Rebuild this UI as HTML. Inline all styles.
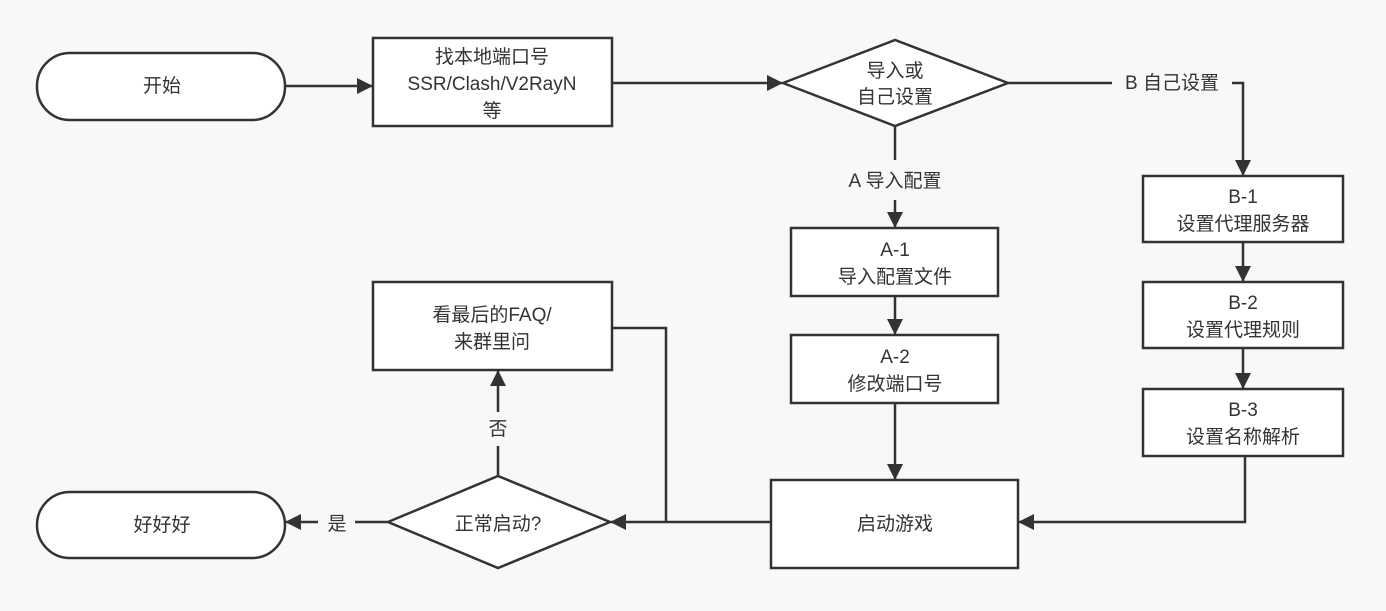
<!DOCTYPE html>
<html><head><meta charset="utf-8"><style>
html,body{margin:0;padding:0;background:#f8f8f8;}
svg text{font-family:"Liberation Sans","Noto Sans CJK SC",sans-serif;font-size:19px;fill:#333;text-anchor:middle;}
</style></head><body>
<svg width="1386" height="606" viewBox="0 0 1386 606" xmlns="http://www.w3.org/2000/svg">
<defs><marker id="a" markerWidth="16" markerHeight="16" refX="15" refY="8" orient="auto" markerUnits="userSpaceOnUse"><path d="M0,0 L16,8 L0,16 Z" fill="#333"/></marker></defs>
<g fill="#fff" stroke="#333" stroke-width="2.5">
<rect x="37" y="53" width="248" height="67" rx="33"/>
<rect x="373" y="38" width="239" height="88"/>
<polygon points="783,83 895,40 1008,83 895,126"/>
<rect x="791" y="228" width="207" height="68"/>
<rect x="791" y="335" width="207" height="68"/>
<rect x="771" y="480" width="247" height="88"/>
<rect x="1143" y="176" width="200" height="66"/>
<rect x="1143" y="282" width="200" height="66"/>
<rect x="1143" y="389" width="200" height="67"/>
<rect x="373" y="282" width="239" height="88"/>
<polygon points="388,522 498,476 610,522 498,568"/>
<rect x="37" y="492" width="248" height="66" rx="33"/>
</g>
<g fill="none" stroke="#333" stroke-width="2.5">
<line x1="285" y1="86" x2="372" y2="86" marker-end="url(#a)"/>
<line x1="612" y1="83" x2="782" y2="83" marker-end="url(#a)"/>
<polyline points="1008,83 1112,83"/>
<polyline points="1232,83 1243,83 1243,175" marker-end="url(#a)"/>
<line x1="895" y1="126" x2="895" y2="160"/>
<line x1="895" y1="200" x2="895" y2="227" marker-end="url(#a)"/>
<line x1="895" y1="296" x2="895" y2="334" marker-end="url(#a)"/>
<line x1="895" y1="403" x2="895" y2="479" marker-end="url(#a)"/>
<line x1="1243" y1="242" x2="1243" y2="281" marker-end="url(#a)"/>
<line x1="1243" y1="348" x2="1243" y2="388" marker-end="url(#a)"/>
<polyline points="1245,456 1245,522 1019,522" marker-end="url(#a)"/>
<line x1="771" y1="522" x2="611" y2="522" marker-end="url(#a)"/>
<polyline points="612,328 666,328 666,522"/>
<line x1="498" y1="476" x2="498" y2="446"/>
<line x1="498" y1="412" x2="498" y2="371" marker-end="url(#a)"/>
<line x1="388" y1="522" x2="355" y2="522"/>
<line x1="318" y1="522" x2="286" y2="522" marker-end="url(#a)"/>
</g>
<text x="162" y="92">开始</text>
<text x="492" y="63">找本地端口号</text>
<text x="492" y="90">SSR/Clash/V2RayN</text>
<text x="492" y="117">等</text>
<text x="895" y="77">导入或</text>
<text x="895" y="103">自己设置</text>
<text x="1172" y="89">B 自己设置</text>
<text x="895" y="187">A 导入配置</text>
<text x="895" y="256">A-1</text>
<text x="895" y="283">导入配置文件</text>
<text x="895" y="363">A-2</text>
<text x="895" y="390">修改端口号</text>
<text x="895" y="530">启动游戏</text>
<text x="1243" y="203">B-1</text>
<text x="1243" y="230">设置代理服务器</text>
<text x="1243" y="309">B-2</text>
<text x="1243" y="336">设置代理规则</text>
<text x="1243" y="416">B-3</text>
<text x="1243" y="443">设置名称解析</text>
<text x="492" y="321">看最后的FAQ/</text>
<text x="492" y="348">来群里问</text>
<text x="498" y="435">否</text>
<text x="498" y="530">正常启动?</text>
<text x="337" y="530">是</text>
<text x="162" y="531">好好好</text>
</svg>
</body></html>
